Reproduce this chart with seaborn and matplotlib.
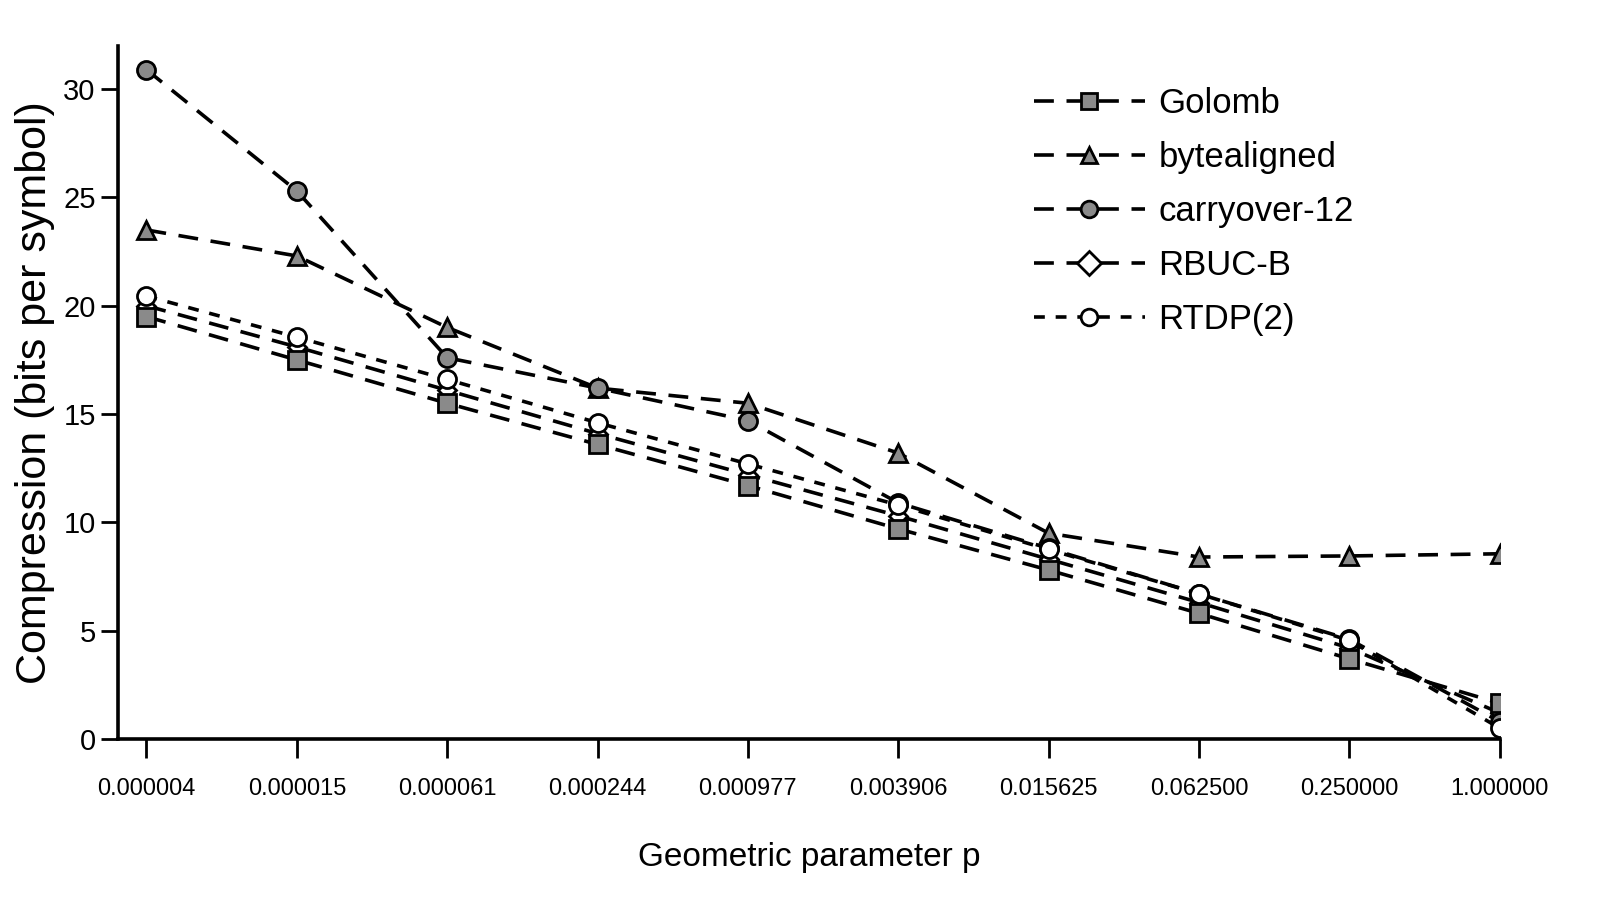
import numpy as np
import pandas as pd
import matplotlib.pyplot as plt
import seaborn as sns

# --- data ---
p_labels = ["0.000004", "0.000015", "0.000061", "0.000244", "0.000977",
            "0.003906", "0.015625", "0.062500", "0.250000", "1.000000"]
golomb = [19.5, 17.5, 15.5, 13.6, 11.7, 9.7, 7.8, 5.8, 3.7, 1.65]
bytealigned = [23.5, 22.3, 19.0, 16.2, 15.5, 13.2, 9.5, 8.4, 8.45, 8.55]
carryover12 = [30.9, 25.3, 17.6, 16.2, 14.7, 10.9, 8.8, 6.7, 4.6, 0.8]
rbuc_b = [20.0, 18.1, 16.1, 14.1, 12.2, 10.3, 8.3, 6.3, 4.2, 1.2]
rtdp2 = [20.45, 18.55, 16.6, 14.6, 12.7, 10.8, 8.75, 6.7, 4.55, 0.5]

series = {
    "Golomb": golomb,
    "bytealigned": bytealigned,
    "carryover-12": carryover12,
    "RBUC-B": rbuc_b,
    "RTDP(2)": rtdp2,
}

sns.set_theme(style="white")
plt.rcParams["font.family"] = ["Liberation Sans", "DejaVu Sans"]
plt.rcParams["text.color"] = "black"
plt.rcParams["axes.labelcolor"] = "black"
plt.rcParams["xtick.color"] = "black"
plt.rcParams["ytick.color"] = "black"

fig = plt.figure(figsize=(16.04, 8.99), dpi=100)
ax = fig.add_axes([0.0735, 0.178, 0.8615, 0.771])

styles = {
    "Golomb": dict(marker="s", mfc="#8a8a8a", dash=(0, (5.5, 3.5)), z=3),
    "bytealigned": dict(marker="^", mfc="#8a8a8a", dash=(0, (5.5, 3.5)), z=3),
    "carryover-12": dict(marker="o", mfc="#8a8a8a", dash=(0, (5.5, 3.5)), z=3),
    "RBUC-B": dict(marker="D", mfc="white", dash=(0, (5.5, 3.5)), z=2),
    "RTDP(2)": dict(marker="o", mfc="white", dash=(0, (3, 3)), z=3),
}

xpos = np.arange(len(p_labels))
for name, vals in series.items():
    st = styles[name]
    df = pd.DataFrame({"p": xpos, "bits": vals})
    ms = 9 if st["marker"] == "D" else 13
    sns.lineplot(data=df, x="p", y="bits", ax=ax, color="black", lw=2.6,
                 linestyle=st["dash"], marker=st["marker"], markersize=ms,
                 markerfacecolor=st["mfc"], markeredgecolor="black",
                 markeredgewidth=2, label=name, sort=False, zorder=st["z"])

ax.set_xlim(-0.19, 9.0)
ax.set_ylim(0, 32)
ax.set_xticks(xpos)
ax.set_xticklabels(p_labels, fontsize=17)
ax.set_yticks([0, 5, 10, 15, 20, 25, 30])
ax.tick_params(axis="y", labelsize=21, direction="out", length=12, width=2, left=True, pad=4)
ax.tick_params(axis="x", direction="out", length=14, width=2, bottom=True, pad=14)
for s in ["top", "right"]:
    ax.spines[s].set_visible(False)
for s in ["left", "bottom"]:
    ax.spines[s].set_color("black")
    ax.spines[s].set_linewidth(2.6)

ax.set_xlabel("Geometric parameter p", fontsize=24, labelpad=30)
ax.set_ylabel("Compression (bits per symbol)", fontsize=31, labelpad=6)

leg = ax.legend(loc="upper left", bbox_to_anchor=(0.64, 0.985), frameon=False,
                fontsize=25, handlelength=3.2, labelspacing=0.6, handletextpad=0.4)
for h in leg.get_lines():
    h.set_markersize(12)

fig.savefig("out.png", dpi=100)
